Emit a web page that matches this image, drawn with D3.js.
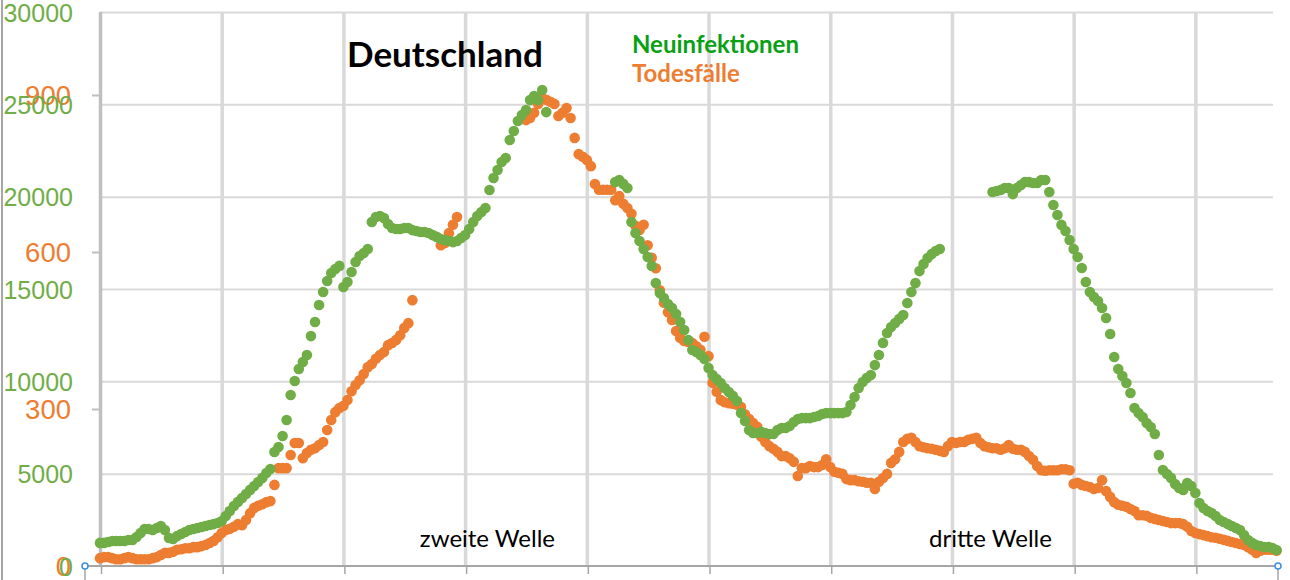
<!DOCTYPE html>
<html>
<head>
<meta charset="utf-8">
<script src="https://cdn.jsdelivr.net/npm/d3@7"></script>
<style>
  body { margin: 0; background: #fff; }
  svg { display: block; font-family: Lato, 'Open Sans', sans-serif; }
</style>
</head>
<body>
<div id="chart"></div>
<script>
// daily values, one entry per day, null where the picture shows no dot
const newCases = [
  1250, 1250, 1300, 1350, 1350, 1350, 1350, 1410, 1410, 1570,
  1790, 2000, 2000, 1950, 2060, 2170, 1950, 1520, 1460, 1620,
  1730, 1840, 1950, 2000, 2060, 2110, 2170, 2220, 2270, 2330,
  2440, 2710, 2980, 3250, 3470, 3680, 3900, 4120, 4330, 4550,
  4770, 5040, 5250, 6170, 6440, 7040, 7910, 9260, 10020, 10670,
  11050, 11430, 12450, 13210, 14130, 14840, 15430, 15870, 16080, 16250,
  15110, 15380, 15920, 16460, 16790, 16950, 17170, 18630, 18900, 18950,
  18840, 18520, 18300, 18250, 18250, 18300, 18300, 18190, 18140, 18090,
  18090, 18030, 17920, 17820, 17710, 17650, 17600, 17540, 17600, 17760,
  17920, 18250, 18630, 18950, 19170, 19390, 20360, 21010, 21440, 21880,
  22090, 23070, 23560, 24100, 24420, 24690, 25230, 25450, 25230, 25780,
  24580, null, null, null, null, null, null, null, null, null,
  null, null, null, null, null, null, null, 20790, 20900, 20690,
  20470, 18630, 18030, 17600, 17170, 16730, 16250, 15320, 14780, 14510,
  14190, 13970, 13650, 13210, 12780, 12240, 11700, 11590, 11430, 11210,
  10720, 10340, 10130, 9910, 9640, 9420, 9210, 8930, 8280, 7850,
  7360, 7200, 7200, 7260, 7200, 7150, 7150, 7360, 7470, 7470,
  7580, 7800, 7960, 8010, 8010, 8010, 8070, 8120, 8230, 8280,
  8280, 8280, 8280, 8280, 8340, 8720, 9150, 9640, 9960, 10180,
  10340, 10880, 11430, 12080, 12620, 12940, 13160, 13380, 13590, 14240,
  14840, 15320, 15970, 16350, 16680, 16890, 17060, 17170, null, null,
  null, null, null, null, null, null, null, null, null, null,
  20250, 20310, 20360, 20470, 20470, 20140, 20470, 20630, 20790, 20790,
  20740, 20740, 20900, 20900, 20250, 19550, 19010, 18470, 18140, 17650,
  17170, 16730, 16140, 15380, 14840, 14570, 14350, 13970, 13430, 12560,
  11320, 10670, 10290, 9910, 9370, 8560, 8280, 8070, 7740, 7530,
  7150, 6010, 5200, 4980, 4770, 4440, 4220, 4120, 4490, 4330,
  3950, 3410, 3140, 2980, 2870, 2710, 2490, 2380, 2270, 2170,
  2060, 1950, 1680, 1410, 1250, 1140, 1080, 1030, 1030, 970,
  870
];

const deaths = [
  15, 17, 17, 15, 13, 13, 15, 17, 15, 13,
  13, 13, 13, 15, 17, 21, 25, 25, 27, 31,
  32, 34, 34, 36, 36, 38, 40, 44, 48, 55,
  63, 69, 71, 75, 80, 78, 88, 101, 111, 115,
  118, 122, 124, 155, 187, 187, 187, 212, 235, 235,
  206, 216, 222, 225, 231, 237, 260, 279, 294, 302,
  306, 317, 334, 346, 355, 367, 380, 386, 396, 403,
  409, 422, 426, 432, 441, 455, 464, 508, null, null,
  null, null, null, null, 613, 617, 636, 652, 667, null,
  null, null, null, null, null, null, null, null, null, null,
  null, null, null, null, null, 852, 856, 866, 883, 894,
  891, 887, 883, 860, 866, 875, 856, 818, 787, 782,
  776, 764, 730, 719, 719, 719, 719, 699, 707, 692,
  684, 673, 650, 642, 652, 613, 589, 569, 527, 503,
  485, 470, 449, 436, 430, 428, 426, 420, 413, 438,
  401, 350, 333, 317, 313, 311, 310, 308, 304, 290,
  281, 273, 266, 247, 237, 229, 224, 218, 210, 210,
  206, 199, 172, 187, 187, 191, 189, 189, 193, 204,
  189, 180, 178, 176, 166, 164, 164, 162, 161, 159,
  159, 147, 161, 168, 176, 197, 204, 218, 237, 243,
  245, 237, 229, 227, 225, 224, 222, 220, 218, 229,
  237, 235, 237, 237, 241, 243, 245, 235, 229, 227,
  225, 225, 222, 225, 231, 224, 222, 222, 218, 210,
  203, 191, 183, 182, 183, 183, 183, 185, 185, 183,
  157, 159, 155, 153, 151, 147, 149, 164, 143, 132,
  122, 117, 115, 113, 109, 105, 97, 97, 96, 92,
  90, 88, 86, 84, 82, 82, 82, 80, 75, 67,
  63, 61, 59, 57, 55, 54, 52, 50, 48, 46,
  44, 42, 40, 36, 31, 25, 29, 31, 31, 31,
  29
];

const caseTicks = [0, 5000, 10000, 15000, 20000, 25000, 30000];
const deathTicks = [0, 300, 600, 900];
const dayTicks = [0, 30, 60, 90, 120, 150, 180, 210, 240, 270];
const seriesNames = ['Neuinfektionen', 'Todesfälle'];
const waveLabels = ['zweite Welle', 'dritte Welle'];
const title = 'Deutschland';

const w = 1290;
const h = 580;
const green = '#70ad47';
const orange = '#ed7d31';
const grid = '#d9d9d9';

const svg = d3.select('#chart').append('svg').attr('width', w).attr('height', h);

const x = d3.scaleLinear().domain([0, 290]).range([100, 1276.5]);
const yCases = d3.scaleLinear().domain([0, 30000]).range([566, 12]);
const yDeaths = d3.scaleLinear().domain([0, 1058.6]).range([566, 12]);

// stray frame line on the far left
svg.append('line')
  .attr('x1', 2).attr('x2', 2).attr('y1', 0).attr('y2', h)
  .attr('stroke', '#a6a6a6').attr('stroke-width', 2);

// horizontal gridlines
svg.append('g')
  .attr('transform', 'translate(100,0)')
  .call(d3.axisRight(yCases).tickValues(caseTicks.slice(1)).tickSize(1173).tickFormat(''))
  .call(g => g.select('.domain').remove())
  .call(g => g.selectAll('line').attr('stroke', grid).attr('stroke-width', 2));

// vertical gridlines
svg.append('g')
  .attr('transform', 'translate(0,12)')
  .call(d3.axisBottom(x).tickValues(dayTicks.slice(1)).tickSize(554).tickFormat(''))
  .call(g => g.select('.domain').remove())
  .call(g => g.selectAll('line').attr('stroke', grid).attr('stroke-width', 3.5));

// left axis line
svg.append('line')
  .attr('x1', 100.5).attr('x2', 100.5).attr('y1', 12).attr('y2', 566)
  .attr('stroke', '#bfbfbf').attr('stroke-width', 3.5);

// bottom axis with small ticks
svg.append('line')
  .attr('x1', 85).attr('x2', 1278).attr('y1', 566).attr('y2', 566)
  .attr('stroke', '#a6a6a6').attr('stroke-width', 2);
svg.append('g')
  .attr('transform', 'translate(1,566)')
  .call(d3.axisBottom(x).tickValues(dayTicks).tickSize(8).tickFormat(''))
  .call(g => g.select('.domain').remove())
  .call(g => g.selectAll('line').attr('stroke', '#a6a6a6').attr('stroke-width', 1.5));

// selection handles at the ends of the axis
[85, 1278].forEach(px => {
  svg.append('line')
    .attr('x1', px).attr('x2', px).attr('y1', 569).attr('y2', h)
    .attr('stroke', '#a6a6a6').attr('stroke-width', 1.5);
  svg.append('circle')
    .attr('cx', px).attr('cy', 566).attr('r', 3)
    .attr('fill', '#fff').attr('stroke', '#3c8fdc').attr('stroke-width', 1.5);
});

// orange ticks on the left of the axis
svg.append('g')
  .attr('transform', 'translate(100,0)')
  .call(d3.axisLeft(yDeaths).tickValues(deathTicks.slice(1)).tickSize(8).tickFormat(''))
  .call(g => g.select('.domain').remove())
  .call(g => g.selectAll('line').attr('stroke', '#bfbfbf').attr('stroke-width', 2));

// axis labels: deaths first, cases on top
svg.append('g')
  .attr('transform', 'translate(71,0)')
  .call(d3.axisLeft(yDeaths).tickValues(deathTicks).tickSize(0).tickPadding(0).tickFormat(d3.format('d')))
  .call(g => g.select('.domain').remove())
  .call(g => g.selectAll('text')
    .attr('fill', orange).style('font-size', '27.5px').attr('dy', '0.36em'));

svg.append('g')
  .attr('transform', 'translate(73,0)')
  .call(d3.axisLeft(yCases).tickValues(caseTicks).tickSize(0).tickPadding(0).tickFormat(d3.format('d')))
  .call(g => g.select('.domain').remove())
  .call(g => g.selectAll('text')
    .attr('fill', green).style('font-size', '25px').attr('dy', '0.36em'));

// dots
const deathPts = deaths.map((v, i) => ({ i, v })).filter(d => d.v !== null);
const casePts = newCases.map((v, i) => ({ i, v })).filter(d => d.v !== null);

svg.append('g')
  .selectAll('circle')
  .data(deathPts)
  .enter()
  .append('circle')
  .attr('cx', d => x(d.i))
  .attr('cy', d => yDeaths(d.v))
  .attr('r', 5.3)
  .attr('fill', orange);

svg.append('g')
  .selectAll('circle')
  .data(casePts)
  .enter()
  .append('circle')
  .attr('cx', d => x(d.i))
  .attr('cy', d => yCases(d.v))
  .attr('r', 5.3)
  .attr('fill', green);

// title and legend
svg.append('text')
  .attr('x', 347).attr('y', 67)
  .style('font-size', '35px').style('font-weight', 700)
  .attr('fill', '#000')
  .text(title);

svg.append('text')
  .attr('x', 632).attr('y', 53)
  .style('font-size', '24px').style('font-weight', 700)
  .attr('fill', '#0aa014')
  .text(seriesNames[0]);

svg.append('text')
  .attr('x', 632).attr('y', 82)
  .style('font-size', '24px').style('font-weight', 700)
  .attr('fill', orange)
  .text(seriesNames[1]);

// wave labels, centred below the two waves
const waveDays = [95.5, 219.5];
waveLabels.forEach((t, i) => {
  svg.append('text')
    .attr('x', x(waveDays[i])).attr('y', 547)
    .attr('text-anchor', 'middle')
    .style('font-size', '24px')
    .attr('fill', '#000')
    .text(t);
});
</script>
</body>
</html>
